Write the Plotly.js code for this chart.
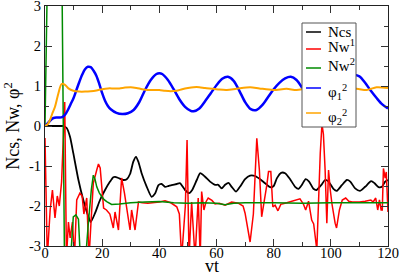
<!DOCTYPE html>
<html>
<head>
<meta charset="utf-8">
<script src="https://cdn.plot.ly/plotly-3.0.1.min.js"></script>
<style>html,body{margin:0;padding:0;background:#fff;}#chart{width:399px;height:275px;}</style>
</head>
<body>
<div id="chart"></div>
<script>
// ---- data ----
const ncsT = [0,2,4,6,6.4,7.6,8.75,9.9,11.7,13.4,15.2,16,17.5,19.25,21,22.75,23.9,24.5,25.7,27.4,28.6,29.75,30.9,31.85,32.7,33.8,35.6,37.3,38.5,39.7,40.8,42,43.2,44.3,46.1,47.2,49,50.4,51.5,53.1,54.3,56,57.75,59.5,60.6,61.8,63,64.2,65.3,66.85,68.2,70,71.75,73.5,75.25,77,78.75,80,81.1,82.6,84,85.75,87.5,88.7,89.8,91.2,92.4,93.9,95,96.6,98,99.2,100.9,102.1,103.85,105.6,106.8,108.5,110.25,112,114.1,115.3,116.7,117.9,119,120];
const ncsV = [0,0,0,0,0,-0.05,-0.27,-0.68,-1.35,-1.85,-2.27,-2.4,-2.18,-1.85,-1.6,-1.39,-1.28,-1.27,-1.3,-1.35,-1.33,-1.2,-0.89,-0.77,-0.9,-1.18,-1.52,-1.77,-1.69,-1.48,-1.45,-1.52,-1.5,-1.48,-1.45,-1.43,-1.6,-1.68,-1.6,-1.35,-1.18,-1.27,-1.39,-1.47,-1.47,-1.56,-1.47,-1.42,-1.52,-1.64,-1.52,-1.33,-1.24,-1.25,-1.33,-1.43,-1.53,-1.5,-1.31,-1.17,-1.18,-1.33,-1.52,-1.57,-1.48,-1.33,-1.39,-1.57,-1.6,-1.48,-1.35,-1.39,-1.57,-1.62,-1.48,-1.35,-1.39,-1.56,-1.62,-1.52,-1.38,-1.43,-1.53,-1.52,-1.39,-1.35];

const nw1T = [0,0.8,1.8,2.6,3.5,4.3,5.0,5.8,6.9,7.5,8.2,8.8,9.6,10.3,11.1,12.2,13.0,13.6,14.6,15.4,16.1,16.9,18.1,18.7,19.3,19.9,20.5,21.5,22.7,23.9,24.5,25.7,26.8,27.8,28.6,29.75,30.3,31.5,32.7,34,36,38,40,42,44,46.1,47,47.8,49.1,49.7,50.4,51.3,52.5,53.6,54.3,54.8,55.6,56.3,57.1,58.4,59.5,61,63,65.3,67.6,69.3,70,71.75,72.9,74.1,75,75.8,76.6,77.6,78.2,79,79.7,80.5,81.5,82.5,84.6,85.7,87.5,89.2,90.4,91.2,92.2,93.3,94,95.1,96.3,96.9,97.4,98,98.6,99.2,99.8,100.4,101.5,102,103,104,105.2,106.3,107.5,110,112,114,114.8,115.7,116.4,117,117.6,118,118.4,119,119.4,120];
const nw1V = [-0.3,-3.3,-2.1,-1.6,-2.3,-1.75,-2.0,-1.4,0.6,-3.3,-2.4,-2.8,-2.4,-3.3,-1.85,-1.68,-1.75,-2.2,-1.8,-3.3,-2.4,-1.43,-1.1,-0.95,-1.05,-1.5,-2.05,-2.1,-2.2,-2.55,-2.15,-2.6,-1.3,-1.68,-2.05,-2.6,-2.1,-2.6,-1.9,-1.92,-1.93,-1.92,-1.9,-1.87,-1.92,-2.02,-2.2,-3.3,-2.0,-0.35,-3.3,-1.9,-3.3,-1.8,-3.3,-1.64,-2.1,-1.9,-1.8,-1.86,-1.95,-1.93,-1.98,-1.9,-1.93,-2.0,-2.18,-2.9,-2.2,-0.31,-1.1,-2.27,-1.95,-1.48,-1.14,-1.14,-2.02,-1.98,-2.12,-1.96,-1.92,-1.9,-1.85,-1.82,-1.95,-2.1,-1.88,-2.35,-2.45,-3.1,-0.68,0.05,-0.2,-1.1,-2.43,-1.1,-1.6,-1.95,-2.43,-2.55,-2.1,-1.85,-1.8,-1.88,-1.9,-1.9,-1.88,-1.85,-1.9,-1.8,-2.1,-1.85,-2.1,-2.1,-1.06,-1.3,-1.15,-2.15];

const nw2T = [0,0.9,5.9,6.9,8.8,9.9,10.8,11.7,12.5,14,15.2,16.2,16.9,17.5,18.1,19.0,19.9,20.7,21.6,23.3,26,30,35,40,45,50,55,60,63,66,70,80,90,100,110,120];
const nw2V = [0,4,4,-4,-3.5,-2.27,-2.22,-2.33,-3.5,-3.5,-2.4,-1.6,-1.23,-1.33,-1.52,-1.67,-1.77,-1.84,-1.89,-1.96,-1.95,-1.92,-1.9,-1.89,-1.92,-1.93,-1.92,-1.93,-1.97,-1.93,-1.92,-1.92,-1.93,-1.92,-1.92,-1.92];

const phi1T = [0,1,2,3,4,5,6,7,8,9,10,11,12,13,14,15,16,17,18,19,20,21,22,23,25,27,29,31,33,35,37,39,40,41,43,45,47,49,51,52,54,56,58,60,62,64,66,68,70,72,74,76,78,80,82,84,86,88,90,92,94,96,98,100,102,104,106,108,110,112,114,116,118,120];
const phi1V = [0,0.07,0.15,0.2,0.21,0.21,0.22,0.28,0.4,0.55,0.7,0.9,1.1,1.28,1.42,1.48,1.47,1.38,1.25,1.05,0.82,0.63,0.5,0.42,0.33,0.3,0.32,0.4,0.6,0.9,1.15,1.3,1.32,1.3,1.15,0.92,0.67,0.48,0.38,0.37,0.44,0.62,0.82,1.02,1.18,1.23,1.13,0.88,0.6,0.42,0.4,0.52,0.72,0.92,1.08,1.19,1.23,1.15,0.95,0.72,0.52,0.4,0.37,0.45,0.62,0.85,1.1,1.27,1.24,1.08,0.88,0.7,0.54,0.44];

const phi2T = [0,1,1.75,2.5,3.5,4.7,5.8,7,8.2,9.9,12,14,16,18,20,22,24,26,28,30,32,34,36,38,40,42,44,46,48,50,52,54,56,59,61,63.6,67,71.75,75,79.8,84.5,88,92,96,100,104,109,112.5,116,120];
const phi2V = [0,0.05,0.15,0.3,0.48,0.82,1.05,1.03,0.94,0.88,0.86,0.86,0.87,0.89,0.92,0.94,0.94,0.94,0.96,0.97,0.95,0.92,0.9,0.9,0.9,0.88,0.87,0.88,0.92,0.95,0.97,0.97,0.95,0.93,0.91,0.9,0.93,0.97,0.94,0.9,0.93,0.9,0.94,0.91,0.94,0.9,0.93,0.9,0.97,0.95];

const seriesNames = ['Ncs','Nw<sup>1</sup>','Nw<sup>2</sup>','φ<sub>1</sub><sup>2</sup>','φ<sub>2</sub><sup>2</sup>'];
const seriesColors = ['#000000','#ff0000','#008b00','#0000ff','#ffa500'];
const yTickVals = [-3,-2,-1,0,1,2,3];
const yTickText = ['-3','-2','-1','0','1','2','3'];
const xTickVals = [0,20,40,60,80,100,120];
const xTitle = 'vt';
const yTitle = 'Ncs, Nw, φ<sup>2</sup>';

const FONT = "'Liberation Serif', 'Times New Roman', serif";

const traces = [
  {x: ncsT, y: ncsV, name: seriesNames[0], mode:'lines', line:{color:seriesColors[0], width:1.8, shape:'spline', smoothing:0.6}},
  {x: nw1T, y: nw1V, name: seriesNames[1], mode:'lines', line:{color:seriesColors[1], width:1.5}},
  {x: nw2T, y: nw2V, name: seriesNames[2], mode:'lines', line:{color:seriesColors[2], width:1.5, simplify:false}},
  {x: phi1T, y: phi1V, name: seriesNames[3], mode:'lines', line:{color:seriesColors[3], width:2.5, shape:'spline', smoothing:0.8}},
  {x: phi2T, y: phi2V, name: seriesNames[4], mode:'lines', line:{color:seriesColors[4], width:2, shape:'spline', smoothing:0.8}}
];

// ---- custom compact legend (xmgrace style box) ----
const W = 399, H = 275, ML = 45, MR = 11, MT = 6, MB = 29;
const PW = W - ML - MR, PH = H - MT - MB;
const px = v => (v - ML) / PW;
const py = v => (H - MB - v) / PH;
const legRows = [32, 49, 68, 88, 113];
const legTextShift = [0, -3, -3, 4, 4];
const shapes = [{type:'rect', xref:'paper', yref:'paper', x0:px(302), x1:px(356), y0:py(127), y1:py(23),
  line:{color:'#555', width:1}, fillcolor:'#fff', layer:'above'}];
const annotations = [];
seriesNames.forEach((n, i) => {
  shapes.push({type:'line', xref:'paper', yref:'paper', x0:px(306), x1:px(321), y0:py(legRows[i]), y1:py(legRows[i]),
    line:{color:seriesColors[i], width:1.5}, layer:'above'});
  annotations.push({xref:'paper', yref:'paper', x:px(326), y:py(legRows[i] + legTextShift[i]), xanchor:'left', yanchor:'middle',
    text:n, showarrow:false, font:{family:FONT, size:15, color:'#000'}});
});
// x-axis title placed below tick labels
annotations.push({xref:'paper', yref:'paper', x:px(212), y:py(266), xanchor:'center', yanchor:'middle',
  text:xTitle, showarrow:false, font:{family:FONT, size:18, color:'#000'}});

const axisCommon = {
  showgrid:false, zeroline:false, showline:true, linecolor:'#222', linewidth:1,
  mirror:'allticks', ticks:'inside', ticklen:7, tickcolor:'#333', tickwidth:1,
  ticklabeloverflow:'allow',
  tickfont:{family:FONT, size:14.5, color:'#000'}
};

const layout = {
  width:W, height:H,
  margin:{l:ML, r:MR, t:MT, b:MB},
  paper_bgcolor:'#fff', plot_bgcolor:'#fff',
  showlegend:false,
  font:{family:FONT, color:'#000'},
  xaxis: Object.assign({}, axisCommon, {
    range:[0,120], tickmode:'array', tickvals:xTickVals,
    ticklabelstandoff:-6,
    minor:{dtick:10, ticks:'inside', ticklen:4, tickcolor:'#333'}
  }),
  yaxis: Object.assign({}, axisCommon, {
    range:[-3,3], tickmode:'array', tickvals:yTickVals, ticktext:yTickText,
    minor:{dtick:0.5, ticks:'inside', ticklen:4, tickcolor:'#333'},
    title:{text:yTitle, font:{family:FONT, size:18, color:'#000'}, standoff:4}
  }),
  shapes: shapes,
  annotations: annotations
};

Plotly.newPlot('chart', traces, layout, {displayModeBar:false, staticPlot:true});
</script>
</body>
</html>
